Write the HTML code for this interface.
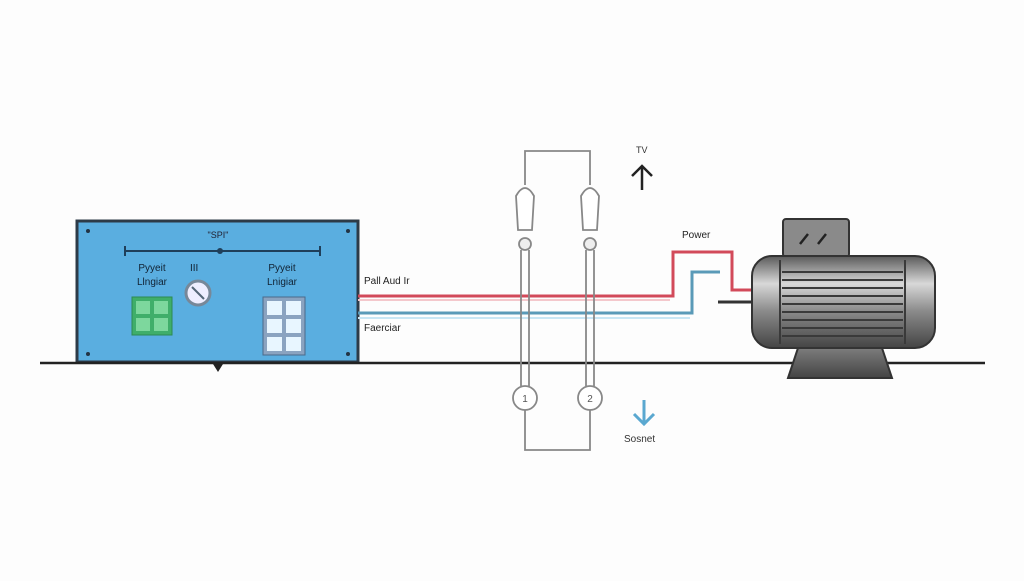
<!DOCTYPE html>
<html><head><style>
body{margin:0;background:#fdfdfd;width:1024px;height:576px;overflow:hidden;font-family:"Liberation Sans",sans-serif}
</style></head><body>
<svg width="1024" height="576" viewBox="0 0 1024 576" xmlns="http://www.w3.org/2000/svg">
<defs>
<linearGradient id="mg" x1="0" y1="0" x2="0" y2="1">
<stop offset="0" stop-color="#5a5a5a"/><stop offset="0.3" stop-color="#d8d8d8"/><stop offset="0.6" stop-color="#8a8a8a"/><stop offset="1" stop-color="#444"/></linearGradient>
<linearGradient id="bg" x1="0" y1="0" x2="0" y2="1"><stop offset="0" stop-color="#888"/><stop offset="1" stop-color="#444"/></linearGradient>
</defs>
<rect width="1024" height="576" fill="#fdfdfd"/>
<!-- control box -->
<rect x="77" y="221" width="281" height="141" fill="#5aaee0" stroke="#2d3b48" stroke-width="3"/>
<circle cx="88" cy="231" r="2" fill="#234"/><circle cx="348" cy="231" r="2" fill="#234"/>
<circle cx="88" cy="354" r="2" fill="#234"/><circle cx="348" cy="354" r="2" fill="#234"/>
<text x="218" y="238" font-size="9" text-anchor="middle" fill="#223">"SPI"</text>
<line x1="125" y1="251" x2="320" y2="251" stroke="#1f3f5a" stroke-width="2"/>
<line x1="125" y1="246" x2="125" y2="256" stroke="#1f3f5a" stroke-width="2"/>
<line x1="320" y1="246" x2="320" y2="256" stroke="#1f3f5a" stroke-width="2"/>
<circle cx="220" cy="251" r="3" fill="#1f3f5a"/>
<text x="152" y="271" font-size="10" text-anchor="middle" fill="#123">Pyyeit</text>
<text x="152" y="285" font-size="10" text-anchor="middle" fill="#123">Llngiar</text>
<text x="190" y="271" font-size="10" fill="#123">III</text>
<text x="282" y="271" font-size="10" text-anchor="middle" fill="#123">Pyyeit</text>
<text x="282" y="285" font-size="10" text-anchor="middle" fill="#123">Lnigiar</text>
<circle cx="198" cy="293" r="12" fill="#eef" stroke="#789" stroke-width="3"/>
<line x1="192" y1="287" x2="204" y2="299" stroke="#567" stroke-width="2"/>
<rect x="132" y="297" width="40" height="38" fill="#3fae6a" stroke="#2c8a52"/>
<rect x="136" y="301" width="14" height="13" fill="#7dd79d"/><rect x="154" y="301" width="14" height="13" fill="#7dd79d"/>
<rect x="136" y="318" width="14" height="13" fill="#7dd79d"/><rect x="154" y="318" width="14" height="13" fill="#7dd79d"/>
<rect x="263" y="297" width="42" height="58" fill="#8aa3c0" stroke="#4a6a8a"/>
<g fill="#e8f6ff"><rect x="267" y="301" width="15" height="14"/><rect x="286" y="301" width="15" height="14"/>
<rect x="267" y="319" width="15" height="14"/><rect x="286" y="319" width="15" height="14"/>
<rect x="267" y="337" width="15" height="14"/><rect x="286" y="337" width="15" height="14"/></g>
<!-- ground -->
<line x1="40" y1="363" x2="985" y2="363" stroke="#222" stroke-width="2.5"/>
<path d="M213 364 L223 364 L218 372 Z" fill="#222"/>
<!-- wires -->
<text x="364" y="284" font-size="10" fill="#222">Pall Aud Ir</text>
<text x="364" y="331" font-size="10" fill="#222">Faerciar</text>
<polyline points="358,296 673,296 673,252 732,252 732,290 752,290" fill="none" stroke="#d24a5a" stroke-width="3"/>
<line x1="358" y1="300" x2="670" y2="300" stroke="#f4c8cc" stroke-width="2"/>
<polyline points="358,313 692,313 692,272 720,272" fill="none" stroke="#5a9ab8" stroke-width="3"/>
<line x1="358" y1="318" x2="690" y2="318" stroke="#c8e6f4" stroke-width="2"/>
<line x1="718" y1="302" x2="752" y2="302" stroke="#333" stroke-width="3"/>
<text x="682" y="238" font-size="10" fill="#222">Power</text>
<!-- circuit -->
<g fill="none" stroke="#888" stroke-width="1.8">
<polyline points="525,185 525,151 590,151 590,185"/>
<path d="M516 196 Q525 180 534 196 L532 230 L518 230 Z" fill="#fff"/>
<path d="M581 196 Q590 180 599 196 L597 230 L583 230 Z" fill="#fff"/>
<circle cx="525" cy="244" r="6" fill="#eee"/><circle cx="590" cy="244" r="6" fill="#eee"/>
<line x1="521" y1="250" x2="521" y2="386"/><line x1="529" y1="250" x2="529" y2="386"/>
<line x1="586" y1="250" x2="586" y2="386"/><line x1="594" y1="250" x2="594" y2="386"/>
<circle cx="525" cy="398" r="12" fill="#fff"/><circle cx="590" cy="398" r="12" fill="#fff"/>
<polyline points="525,410 525,450 590,450 590,410"/>
</g>
<text x="525" y="402" font-size="10" text-anchor="middle" fill="#555">1</text>
<text x="590" y="402" font-size="10" text-anchor="middle" fill="#555">2</text>
<!-- arrows -->
<text x="636" y="153" font-size="9" fill="#333">TV</text>
<path d="M642 190 L642 166 M632 176 L642 166 L652 176" fill="none" stroke="#222" stroke-width="2.5"/>
<path d="M644 400 L644 422 M634 414 L644 424 L654 414" fill="none" stroke="#5aa8d0" stroke-width="3"/>
<text x="624" y="442" font-size="10" fill="#333">Sosnet</text>
<!-- motor -->
<rect x="783" y="219" width="66" height="38" rx="3" fill="#8a8a8a" stroke="#333" stroke-width="2"/>
<path d="M800 244 L808 234 M818 244 L826 234" stroke="#222" stroke-width="2.5"/>
<path d="M800 342 L880 342 L892 378 L788 378 Z" fill="url(#bg)" stroke="#333" stroke-width="2"/>
<rect x="752" y="256" width="183" height="92" rx="20" fill="url(#mg)" stroke="#333" stroke-width="2"/>
<g stroke="#3a3a3a" stroke-width="2">
<line x1="780" y1="260" x2="780" y2="344"/><line x1="905" y1="260" x2="905" y2="344"/>
<line x1="782" y1="272" x2="903" y2="272"/><line x1="782" y1="280" x2="903" y2="280"/>
<line x1="782" y1="288" x2="903" y2="288"/><line x1="782" y1="296" x2="903" y2="296"/>
<line x1="782" y1="304" x2="903" y2="304"/><line x1="782" y1="312" x2="903" y2="312"/>
<line x1="782" y1="320" x2="903" y2="320"/><line x1="782" y1="328" x2="903" y2="328"/>
<line x1="782" y1="336" x2="903" y2="336"/>
</g>
</svg>
</body></html>
